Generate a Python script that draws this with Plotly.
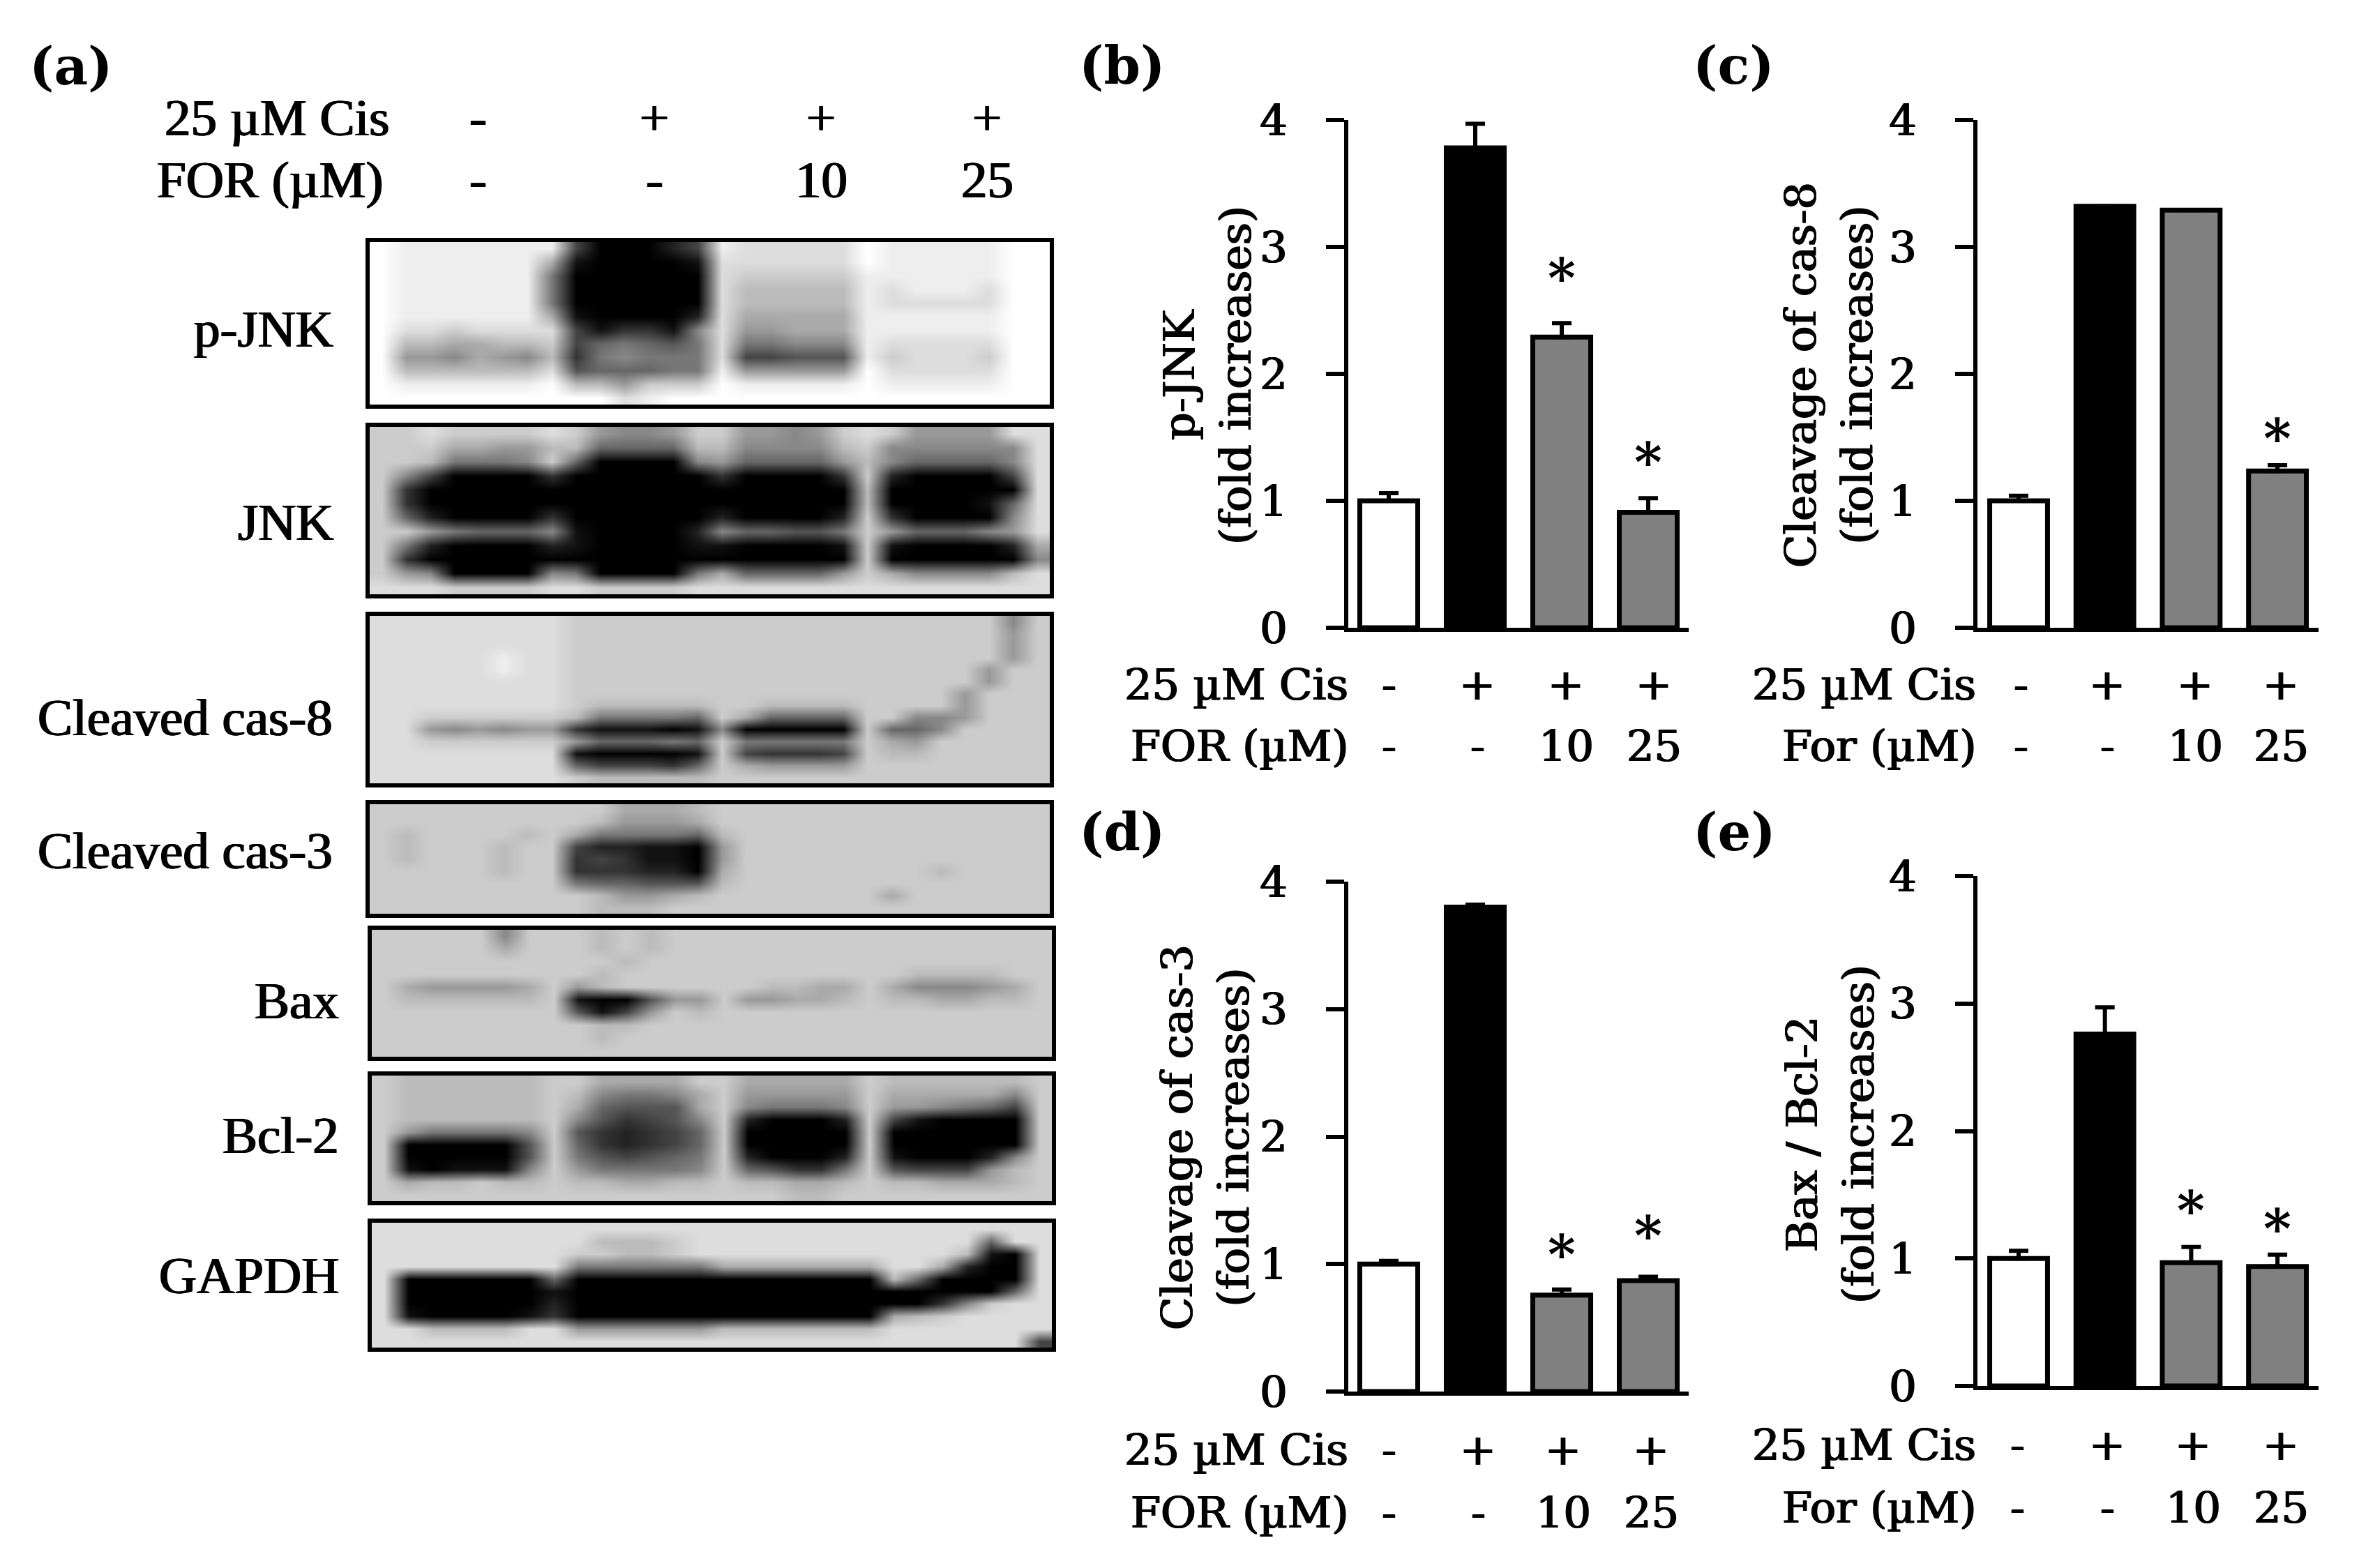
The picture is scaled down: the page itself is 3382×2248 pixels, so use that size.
import plotly.graph_objects as go

W, H = 3382, 2248
FONT = "DejaVu Serif"
BLOT_FONT = "Liberation Serif"
THICK = "1px 0 0 black, -1px 0 0 black"

# values
PJNK = [1.0, 3.78, 2.29, 0.91]
PJNK_TOP = [1.06, 3.97, 2.40, 1.02]
PJNK_STARS = [None, None, 2.82, 1.37]

CAS8 = [1.0, 3.32, 3.29, 1.235]
CAS8_TOP = [1.04, 3.32, 3.29, 1.28]
CAS8_STARS = [None, None, None, 1.56]

CAS3 = [1.0, 3.80, 0.756, 0.87]
CAS3_TOP = [1.025, 3.82, 0.80, 0.90]
CAS3_STARS = [None, None, 1.14, 1.29]

BAXBCL = [1.0, 2.76, 0.967, 0.937]
BAXBCL_TOP = [1.06, 2.97, 1.09, 1.03]
BAXBCL_STARS = [None, None, 1.44, 1.30]

Y_TICKS = [0, 1, 2, 3, 4]
CIS_ROW = ["-", "+", "+", "+"]
FOR_ROW = ["-", "-", "10", "25"]
BAR_COLORS = ["white", "black", "#808080", "#808080"]

# blots: estimated grey level per cell, one hex digit each, 0 = black, f = white
BLOT_PJNK = [
    "f eeeeee e 400024 e ddddd f eeeee ff",
    "f eeeeee a 100001 d ddddd f eeeee ff",
    "f eeeeee 7 000000 d ccccc e eeeee ff",
    "f eeeeee 7 000000 d bbbbb e deeed ff",
    "f eeeeee 7 000000 d bbbbb e ddddd ff",
    "f eeeeee a 100002 d aaaaa e eeeee ff",
    "f ddcddd d 413318 d 99aaa e eeeee ff",
    "f bbaabb c 467657 d 77888 e ddddd ff",
    "f 998a98 b 378777 d 44555 e cdddc ff",
    "f bbbbbb d 566677 e 99999 f ddddd ff",
    "f eeeeee f bb9ccc f eeeee f eeeee ff",
    "f ffffff f ffdeff f fffff f fffff ff",
]
BLOT_JNK = [
    "cc dccccd c9889c c9989c d c9999d d",
    "cc caa99b b6666b b8888b c 888888 d",
    "cc b7778c 600008 966669 b 866668 d",
    "c8 400003 000000 300003 c 200004 d",
    "c3 000000 000000 000000 b 000000 d",
    "c3 000000 000000 000000 b 000016 d",
    "c6 200003 000000 200002 c 300008 d",
    "cc 976668 100002 866557 c 966689 d",
    "c7 200002 100001 100001 c 100002 a",
    "c3 000000 000000 000000 c 000000 8",
    "c9 800008 700007 a66669 c a8888b d",
    "dd dccccd dccccd dddddd d dddddd d",
]
BLOT_CAS8 = [
    "dd dddddd cccccc c cccccc ccccc 8c",
    "dd dddddd cccccc c cccccc ccccc 9c",
    "dd dddddd cccccc c cccccc ccccc 9c",
    "dd dddedd cccccc c cccccc ccccc 9c",
    "dd dddedd cccccc c cccccc cccc9 cc",
    "dd dddddd cccccc c cccccc cccc9 cc",
    "dd dddddd cccccc c cccccc ccc9c cc",
    "dd dddddd cbbbbb c cbbbbc ccc9c cc",
    "dd cccccc b77776 c a6666c c889c cc",
    "dd 989899 311101 8 00000c 668cc cc",
    "dd cccccc 966676 c 77777c a9ccc cc",
    "dd dddddd 100001 c 43334c bbccc cc",
    "dd dddddd 644436 c a9999c ccccc cc",
    "dd dddddd cbbbbb c ccccc c ccccc cc",
]
BLOT_CAS3 = [
    "cccccccc ccaaab cccccccccccccc",
    "cccccccc cb999a cccccccccccccc",
    "cbccccbc a77776 bccccccccccccc",
    "cbcccbcc 422110 9ccccccccccccc",
    "cbcccbcc 343110 9ccccccccccccc",
    "cccccbcc 333220 accccccccbcccc",
    "cccccccc 766555 bccccccccccccc",
    "cccccccc cb99ab cccccccacccccc",
    "cccccccc cbbbcc cccccccccccccc",
]
BLOT_BAX = [
    "c cccc8c c cbcbcc c ccccc c cccccc c",
    "c ccccac c cbcbcc c ccccc c cccccc c",
    "c cccccc c ccbccc c ccccc c cccccc c",
    "c cccccc c cbcccc c ccccc c cbbbbc c",
    "c a9999a c 9bcccc c cbbaa c a8889a c",
    "c bbbbbb c 100599 c 99aab c bbaabb c",
    "c cccccc c 5149cb c ccccc c cccccc c",
    "c cccccc c cbbccc c ccccc c cccccc c",
    "c cccccc c cbcccc c ccccc c cccccc c",
    "c cccccc c cccccc c ccccc c cccccc c",
]
BLOT_BCL2 = [
    "c bbbbbb c caaaac c aaaaa c bbbbbb c",
    "c bbbbbb c b8778a c 99999 c aaaaa8 c",
    "c bbbbbb c a6555a c 87778 c 998764 c",
    "c bbbbbb c 853458 c 20002 c 410000 c",
    "c 977778 c 532346 c 00000 c 000000 c",
    "c 000005 c 632346 c 00000 c 000000 c",
    "c 000005 c 754567 c 20002 c 100028 c",
    "c 101118 c 977778 c 65337 c 54449b c",
    "c abbcbb c bbaabb c bbaab c bbaaab c",
    "c cccccc c cccccc c ccbbc c cccccc c",
]
BLOT_GAPDH = [
    "d dddddd d dddddd ddddddd dddddd d",
    "d dddddd d dbbbcd ddddddd dddd6d d",
    "d dddddd d ccbbcd ddddddd dddb10 d",
    "d dddddd d 777777 aaaaaaa dda200 d",
    "d 000000 6 000000 0000000 b60000 d",
    "d 000000 1 000000 0000000 000006 d",
    "d 000000 2 000000 0000000 0038cd d",
    "d 100001 3 000000 0000000 abcddd d",
    "d dbbbbd d 999999 bbbbbbb dddddd d",
    "d dddddd d dddddd ddddddd dddddd 4",
]

# name, cells, left, right, top, bottom, label x, label y in page pixels
BLOTS = [
    ("p-JNK", BLOT_PJNK, 530, 1505, 347, 580, 480, 471),
    ("JNK", BLOT_JNK, 530, 1505, 612, 852, 481, 748),
    ("Cleaved cas-8", BLOT_CAS8, 530, 1505, 883, 1123, 479, 1028),
    ("Cleaved cas-3", BLOT_CAS3, 530, 1505, 1153, 1310, 479, 1219),
    ("Bax", BLOT_BAX, 533, 1508, 1333, 1515, 488, 1434),
    ("Bcl-2", BLOT_BCL2, 533, 1508, 1542, 1722, 488, 1627),
    ("GAPDH", BLOT_GAPDH, 533, 1508, 1753, 1932, 488, 1828),
]


def hx(px):
    return px / W


def vy(px):
    return 1 - px / H


def text(s, x, y, size=62, anchor="center", family=FONT, **kw):
    return dict(text=s, x=hx(x), y=vy(y), xref="paper", yref="paper", xanchor=anchor, yanchor="middle",
                showarrow=False, font=dict(family=family, size=size, color="black", shadow=THICK), **kw)


fig = go.Figure()
layout = {}
notes = []
n = 0

for name, cells, left, right, top, bottom, lab_x, lab_y in BLOTS:
    n += 1
    rows = [[int(c, 16) for c in row.replace(" ", "")] for row in cells]
    fig.add_trace(go.Heatmap(z=rows, zmin=0, zmax=15, colorscale=[[0, "black"], [1, "white"]], showscale=False,
                             zsmooth="best", xaxis=f"x{n}", yaxis=f"y{n}"))
    layout[f"xaxis{n}"] = dict(domain=[hx(left), hx(right)], anchor=f"y{n}", range=[-0.5, len(rows[0]) - 0.5],
                               automargin=False, showticklabels=False, ticks="", showgrid=False, zeroline=False,
                               showline=True, mirror=True, linecolor="black", linewidth=6)
    layout[f"yaxis{n}"] = dict(domain=[vy(bottom), vy(top)], anchor=f"x{n}", range=[len(rows) - 0.5, -0.5],
                               automargin=False, showticklabels=False, ticks="", showgrid=False, zeroline=False,
                               showline=True, mirror=True, linecolor="black", linewidth=6)
    notes.append(text(name, lab_x, lab_y, size=75, anchor="right", family=BLOT_FONT))

# top rows of panel (a)
notes.append(text("25 µM Cis", 560, 169, size=75, anchor="right", family=BLOT_FONT))
notes.append(text("FOR (µM)", 552, 257, size=75, anchor="right", family=BLOT_FONT))
for lab_x, cis, fo in zip([685, 938, 1177, 1415], CIS_ROW, FOR_ROW):
    notes.append(text(cis, lab_x, 169, size=75, family=BLOT_FONT))
    notes.append(text(fo, lab_x, 257, size=75, family=BLOT_FONT))

PANELS = [
    dict(vals=PJNK, top=PJNK_TOP, stars=PJNK_STARS, title="p-JNK<br>(fold increases)", left=1933, right=2421,
         first=1991, step=124, y0=900, y4=172, title_x=1731, title_y=538, row_x=[1992, 2118, 2245, 2371],
         rows_y=[981, 1069], row_right=1935, for_name="FOR (µM)"),
    dict(vals=CAS8, top=CAS8_TOP, stars=CAS8_STARS, title="Cleavage of cas-8<br>(fold increases)", left=2835, right=3324,
         first=2894, step=123.7, y0=900, y4=172, title_x=2622, title_y=538, row_x=[2897, 3021, 3147, 3270],
         rows_y=[981, 1069], row_right=2835, for_name="For (µM)"),
    dict(vals=CAS3, top=CAS3_TOP, stars=CAS3_STARS, title="Cleavage of cas-3<br>(fold increases)", left=1933, right=2421,
         first=1991, step=124, y0=1995, y4=1264, title_x=1728, title_y=1631, row_x=[1991, 2119, 2241, 2367],
         rows_y=[2078, 2168], row_right=1935, for_name="FOR (µM)"),
    dict(vals=BAXBCL, top=BAXBCL_TOP, stars=BAXBCL_STARS, title="Bax / Bcl-2<br>(fold increases)", left=2835, right=3324,
         first=2894, step=123.7, y0=1987, y4=1256, title_x=2624, title_y=1626, row_x=[2892, 3021, 3144, 3270],
         rows_y=[2071, 2161], row_right=2835, for_name="For (µM)"),
]

for p in PANELS:
    n += 1
    xs = list(range(len(p["vals"])))
    up = [t - v for t, v in zip(p["top"], p["vals"])]
    fig.add_trace(go.Bar(x=xs, y=p["vals"], width=0.67, xaxis=f"x{n}", yaxis=f"y{n}",
                         marker=dict(color=BAR_COLORS, line=dict(color="black", width=7)),
                         error_y=dict(type="data", symmetric=False, array=up, arrayminus=[0] * 4,
                                      color="black", thickness=6, width=14)))
    lo = (p["left"] - p["first"]) / p["step"]
    hi = (p["right"] - p["first"]) / p["step"]
    layout[f"xaxis{n}"] = dict(domain=[hx(p["left"]), hx(p["right"])], anchor=f"y{n}", range=[lo, hi], automargin=False,
                               showticklabels=False, ticks="", showgrid=False, zeroline=False,
                               showline=True, linecolor="black", linewidth=6)
    layout[f"yaxis{n}"] = dict(domain=[vy(p["y0"]), vy(p["y4"])], anchor=f"x{n}", range=[0, 4], automargin=False,
                               tickvals=Y_TICKS, ticks="outside", ticklen=26, tickwidth=6, tickcolor="black",
                               ticklabelstandoff=43, tickfont=dict(family=FONT, size=62, color="black", shadow=THICK),
                               showgrid=False, zeroline=False, showline=True, linecolor="black", linewidth=6)
    notes.append(text(p["title"], p["title_x"], p["title_y"], size=62, textangle=-90))
    notes.append(text("25 µM Cis", p["row_right"], p["rows_y"][0], anchor="right"))
    notes.append(text(p["for_name"], p["row_right"], p["rows_y"][1], anchor="right"))
    for lab_x, cis, fo in zip(p["row_x"], CIS_ROW, FOR_ROW):
        notes.append(text(cis, lab_x, p["rows_y"][0]))
        notes.append(text(fo, lab_x, p["rows_y"][1]))
    for x, s in zip(xs, p["stars"]):
        if s is not None:
            notes.append(dict(text="*", x=x, y=s, xref=f"x{n}", yref=f"y{n}", showarrow=False, yanchor="middle",
                              yshift=-12, font=dict(family=FONT, size=76, color="black", weight="bold")))

for lab, x, y in [("(a)", 40, 95), ("(b)", 1545, 94), ("(c)", 2425, 94), ("(d)", 1545, 1193), ("(e)", 2425, 1193)]:
    notes.append(dict(text=f"<b>{lab}</b>", x=hx(x), y=vy(y), xref="paper", yref="paper", xanchor="left",
                      yanchor="middle", showarrow=False, font=dict(family=FONT, size=75, color="black")))

fig.update_layout(width=W, height=H, margin=dict(l=0, r=0, t=0, b=0), paper_bgcolor="white", plot_bgcolor="white",
                  showlegend=False, annotations=notes, **layout)
fig.write_html("out.html", config={"displayModeBar": False}, post_script="document.body.style.margin='0';")
